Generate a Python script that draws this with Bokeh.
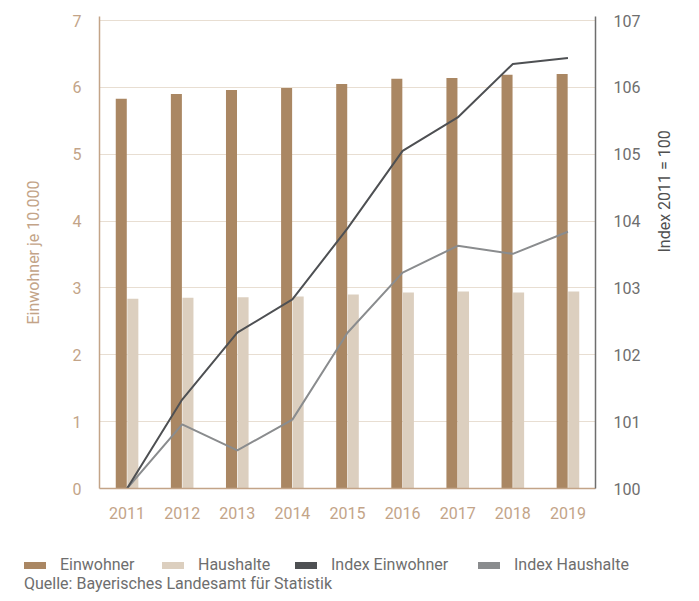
from bokeh.plotting import figure
from bokeh.layouts import column
from bokeh.models import Range1d, LinearAxis, FixedTicker, Div
from bokeh.embed import file_html
from bokeh.resources import INLINE

years = [2011, 2012, 2013, 2014, 2015, 2016, 2017, 2018, 2019]
einwohner = [5.83, 5.90, 5.96, 5.99, 6.05, 6.13, 6.14, 6.19, 6.20]
haushalte = [2.84, 2.855, 2.86, 2.87, 2.90, 2.93, 2.945, 2.93, 2.945]
index_einwohner = [100.0, 101.33, 102.33, 102.83, 103.89, 105.05, 105.55, 106.35, 106.44]
index_haushalte = [100.0, 100.96, 100.57, 101.03, 102.33, 103.23, 103.63, 103.51, 103.84]
series_names = ["Einwohner", "Haushalte", "Index Einwohner", "Index Haushalte"]
left_title = "Einwohner je 10.000"
right_title = "Index 2011 = 100"
source_text = "Quelle: Bayerisches Landesamt für Statistik"

FONT = "Roboto"
C_EIN = "#AA8763"
C_HAUS = "#DCCFBF"
C_IEIN = "#4E5053"
C_IHAUS = "#8A8C8E"
TAN = "#C3A488"
GREY = "#6E6E6E"

p = figure(width=699, height=540, output_backend="svg", toolbar_location=None,
           x_range=Range1d(2010.5, 2019.5), y_range=Range1d(0, 7.06),
           min_border_left=99, min_border_right=104, min_border_top=16, min_border_bottom=52)
p.outline_line_color = None
p.background_fill_color = "white"
p.border_fill_color = "white"

p.extra_y_ranges = {"idx": Range1d(100, 107.06)}

off = 0.105
w = 0.2
p.vbar(x=[y - off for y in years], top=einwohner, width=w, bottom=0,
       fill_color=C_EIN, line_color=None)
p.vbar(x=[y + off for y in years], top=haushalte, width=w, bottom=0,
       fill_color=C_HAUS, line_color=None)
p.line(years, index_haushalte, y_range_name="idx", line_color=C_IHAUS, line_width=2)
p.line(years, index_einwohner, y_range_name="idx", line_color=C_IEIN, line_width=2)

# axes
xa = p.xaxis[0]
xa.ticker = FixedTicker(ticks=years)
xa.major_tick_line_color = None
xa.minor_tick_line_color = None
xa.axis_line_color = TAN
xa.axis_line_width = 1.5
xa.major_label_text_color = TAN
xa.major_label_text_font = FONT
xa.major_label_text_font_size = "16px"
xa.major_label_standoff = 12

ya = p.yaxis[0]
ya.ticker = FixedTicker(ticks=[0, 1, 2, 3, 4, 5, 6, 7])
ya.major_tick_line_color = None
ya.minor_tick_line_color = None
ya.axis_line_color = TAN
ya.axis_line_width = 1.5
ya.major_label_text_color = TAN
ya.major_label_text_font = FONT
ya.major_label_text_font_size = "16px"
ya.major_label_standoff = 12
ya.axis_label = left_title
ya.axis_label_text_color = TAN
ya.axis_label_text_font = FONT
ya.axis_label_text_font_style = "normal"
ya.axis_label_text_font_size = "16px"
ya.axis_label_standoff = 27

ra = LinearAxis(y_range_name="idx", ticker=FixedTicker(ticks=[100, 101, 102, 103, 104, 105, 106, 107]))
ra.major_tick_line_color = None
ra.minor_tick_line_color = None
ra.axis_line_color = GREY
ra.axis_line_width = 1.5
ra.major_label_text_color = GREY
ra.major_label_text_font = FONT
ra.major_label_text_font_size = "16px"
ra.major_label_standoff = 12
ra.axis_label = right_title
ra.axis_label_text_color = "#505050"
ra.axis_label_text_font = FONT
ra.axis_label_text_font_style = "normal"
ra.axis_label_text_font_size = "16px"
ra.axis_label_standoff = 21
if "axis_label_orientation" in ra.properties():
    ra.axis_label_orientation = 1.5708
p.add_layout(ra, "right")

p.xgrid.grid_line_color = None
p.ygrid.grid_line_color = "#E8DED2"
p.ygrid.grid_line_width = 1.2

# legend + source as HTML below the chart
colors = [C_EIN, C_HAUS, C_IEIN, C_IHAUS]
swatch_left = [24, 162, 295, 478]
text_left = [60, 198, 331, 514]
parts = []
for name, c, sl, tl in zip(series_names, colors, swatch_left, text_left):
    parts.append(f'<span style="position:absolute;left:{sl}px;top:22px;width:22px;height:7px;'
                 f'background:{c};"></span>')
    parts.append(f'<span style="position:absolute;left:{tl}px;top:17px;line-height:16px;'
                 f'white-space:nowrap;">{name}</span>')
parts.append(f'<span style="position:absolute;left:24px;top:36px;line-height:16px;'
             f'white-space:nowrap;">{source_text}</span>')
html = ('<div style="position:relative;width:699px;height:61px;font-family:Roboto;'
        f'font-size:16px;color:{GREY};background:white;">' + "".join(parts) + '</div>')
div = Div(text=html, width=699, height=61, margin=0)

layout = column(p, div, spacing=0)
open("out.html", "w").write(file_html(layout, INLINE))
